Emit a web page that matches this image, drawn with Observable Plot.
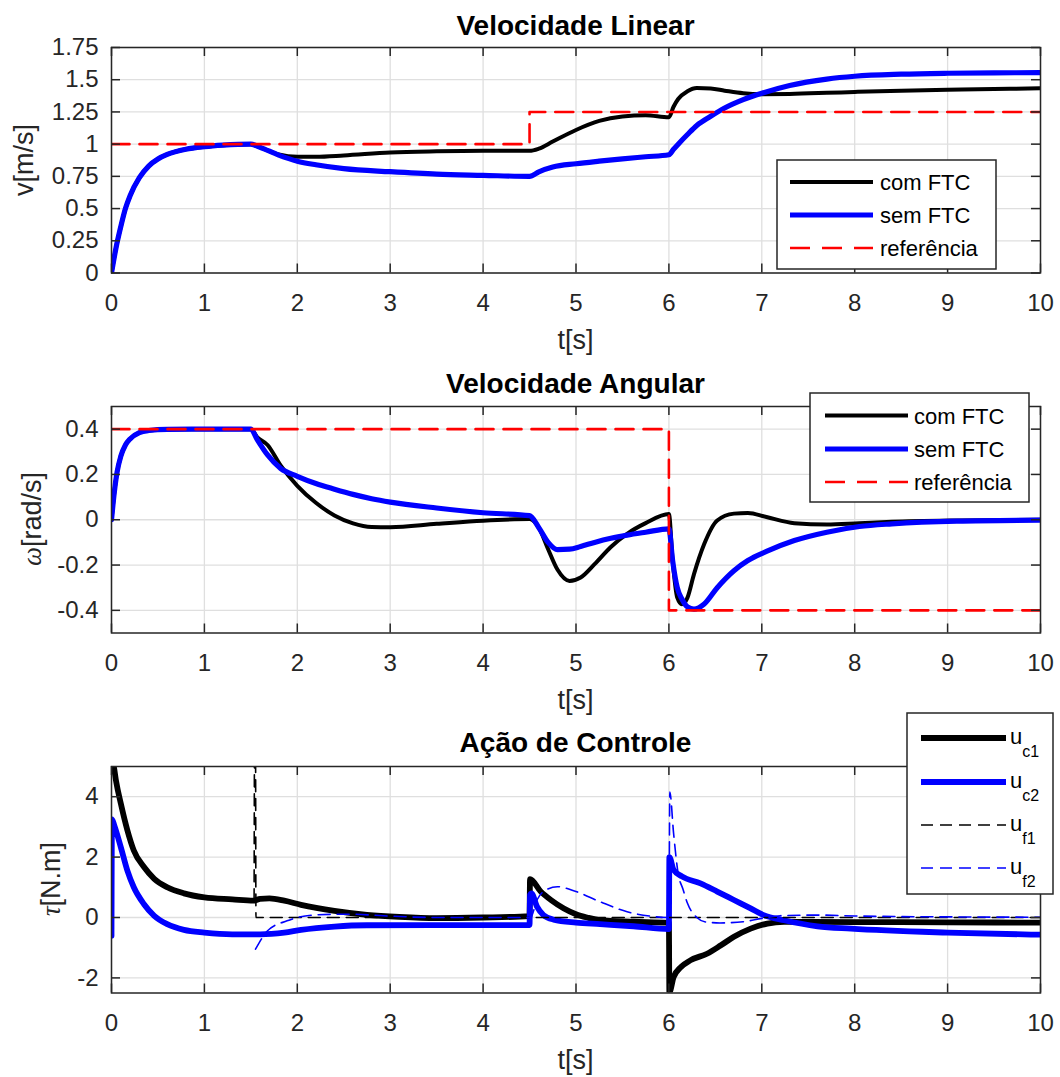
<!DOCTYPE html>
<html>
<head>
<meta charset="utf-8">
<script src="https://cdn.jsdelivr.net/npm/d3@7"></script>
<script src="https://cdn.jsdelivr.net/npm/@observablehq/plot@0.6"></script>
<style>
html,body{margin:0;padding:0;background:#fff;}
#fig{position:relative;width:1060px;height:1077px;overflow:hidden;background:#fff;}
</style>
</head>
<body>
<div id="fig"></div>
<script>
const FONT = '"Liberation Sans", Arial, Helvetica, sans-serif';

// ---------------- data ----------------
const xTicks = [0,1,2,3,4,5,6,7,8,9,10];
const vTicks = [0,0.25,0.5,0.75,1,1.25,1.5,1.75];
const wTicks = [-0.4,-0.2,0,0.2,0.4];
const tauTicks = [-2,0,2,4];

const titles = ["Velocidade Linear", "Velocidade Angular", "Ação de Controle"];
const legendNames = ["com FTC", "sem FTC", "referência"];
const controlNames = [["u","c1"],["u","c2"],["u","f1"],["u","f2"]];

// Linear velocity
const tLin = [0,0.05,0.1,0.15,0.2,0.3,0.4,0.5,0.6,0.8,1.0,1.2,1.5,1.6,1.8,2.0,2.2,2.5,3.0,3.5,4.0,4.5,4.6,4.75,5.0,5.25,5.5,5.75,6.0,6.05,6.1,6.2,6.3,6.45,6.6,6.8,7.0,7.3,7.7,8.0,8.5,9.0,9.5,10];
const vComFTC = [0,0.2,0.36,0.5,0.6,0.74,0.83,0.885,0.92,0.96,0.98,0.992,1.0,0.975,0.92,0.902,0.902,0.912,0.935,0.944,0.948,0.948,0.965,1.02,1.11,1.18,1.215,1.225,1.208,1.29,1.35,1.41,1.435,1.432,1.415,1.395,1.388,1.39,1.398,1.405,1.415,1.422,1.428,1.433];
const vSemFTC = [0,0.2,0.36,0.5,0.6,0.74,0.83,0.885,0.92,0.96,0.98,0.992,1.0,0.975,0.915,0.868,0.84,0.81,0.786,0.767,0.758,0.75,0.785,0.822,0.848,0.868,0.886,0.902,0.918,0.96,1.0,1.075,1.145,1.216,1.28,1.345,1.395,1.455,1.505,1.527,1.543,1.55,1.553,1.555];
const tLinRef = [0,4.5,4.5,10];
const vRef = [1,1,1.25,1.25];

// Angular velocity
const tAng = [0,0.03,0.06,0.1,0.15,0.2,0.3,0.4,0.6,1.0,1.5,1.57,1.68,1.82,2.0,2.2,2.4,2.6,2.8,3.0,3.5,4.0,4.5,4.6,4.7,4.8,4.93,5.05,5.2,5.375,5.55,5.75,6.0,6.04,6.09,6.14,6.2,6.27,6.38,6.52,6.7,6.85,7.05,7.35,7.7,8.05,8.4,9.1,10];
const wComFTC = [0,0.12,0.21,0.28,0.33,0.357,0.385,0.394,0.399,0.4,0.4,0.364,0.33,0.24,0.15,0.075,0.019,-0.016,-0.032,-0.033,-0.018,-0.004,0.003,-0.035,-0.13,-0.22,-0.27,-0.255,-0.196,-0.12,-0.062,-0.015,0.025,-0.18,-0.344,-0.373,-0.344,-0.24,-0.107,-0.003,0.027,0.03,0.012,-0.015,-0.021,-0.015,-0.009,-0.003,0];
const wSemFTC = [0,0.12,0.21,0.28,0.33,0.357,0.385,0.394,0.399,0.4,0.4,0.353,0.286,0.227,0.192,0.16,0.135,0.112,0.093,0.078,0.052,0.031,0.018,-0.035,-0.1,-0.132,-0.13,-0.118,-0.1,-0.082,-0.068,-0.055,-0.04,-0.18,-0.30,-0.35,-0.385,-0.395,-0.372,-0.30,-0.225,-0.18,-0.14,-0.092,-0.055,-0.03,-0.018,-0.006,-0.002];
const tAngRef = [0,6,6,10];
const wRef = [0.4,0.4,-0.4,-0.4];

// Control action
const tUc1 = [0,0.025,0.05,0.1,0.17,0.24,0.35,0.46,0.6,0.78,1.0,1.3,1.53,1.6,1.7,1.86,2.04,2.4,2.75,3.1,3.5,4.0,4.5,4.505,4.62,4.73,4.87,5.0,5.12,5.26,5.62,6.0,6.005,6.05,6.13,6.23,6.41,6.56,6.7,6.88,7.06,7.24,8,9,10];
const uc1 = [5.3,5.0,4.5,3.78,2.9,2.22,1.67,1.28,1.0,0.8,0.667,0.6,0.556,0.62,0.63,0.556,0.42,0.22,0.09,0.02,-0.02,0.0,0.044,1.27,0.86,0.58,0.3,0.11,0.0,-0.09,-0.14,-0.18,-2.48,-1.98,-1.64,-1.42,-1.2,-0.92,-0.64,-0.37,-0.2,-0.144,-0.15,-0.16,-0.17];
const tUc2 = [0,0.005,0.03,0.1,0.17,0.24,0.35,0.46,0.6,0.78,1.0,1.3,1.6,1.86,2.04,2.4,2.75,3.5,4.5,4.505,4.52,4.58,4.65,4.76,5.0,5.26,5.62,6.0,6.005,6.05,6.14,6.34,6.52,6.7,6.88,7.02,7.24,7.6,7.96,9,10];
const uc2 = [-0.6,3.25,3.05,2.33,1.56,1.0,0.44,0.056,-0.22,-0.41,-0.5,-0.556,-0.556,-0.5,-0.41,-0.3,-0.256,-0.25,-0.25,0.74,0.8,0.36,0.08,-0.07,-0.17,-0.22,-0.29,-0.38,2.0,1.58,1.36,1.13,0.86,0.58,0.3,0.08,-0.09,-0.29,-0.37,-0.5,-0.57];
const tUf1 = [1.535,1.54,1.55,1.555,10];
const uf1 = [0.55,6,6,0,0];
const tUf2 = [1.55,1.68,1.89,2.22,2.58,2.93,3.47,4.5,4.51,4.58,4.65,4.8,5.0,5.26,5.55,5.8,5.98,6.0,6.01,6.05,6.1,6.15,6.2,6.3,6.4,6.55,6.8,7.0,7.2,7.6,8.0,9.0,10];
const uf2 = [-1.05,-0.44,-0.11,0.09,0.11,0.056,0.0,0.0,0.0,0.58,0.86,1.02,0.86,0.52,0.19,0.044,0.0,0.0,4.15,2.8,1.45,0.95,0.47,0.0,-0.15,-0.18,-0.14,-0.03,0.06,0.08,0.05,0.02,0.01];

// ---------------- helpers ----------------
const zip = (t, y) => t.map((x, i) => ({t: x, y: y[i]}));
const BLACK = "#000000", BLUE = "#0000ff", RED = "#ff0000", AX = "#262626", GRID = "#dfdfdf";
const FRAME_L = 111, FRAME_R = 1040;
const fig = document.getElementById("fig");

function panel(o) {
  const H = 360;
  const mt = o.frameTop - o.top, mb = o.top + H - o.frameBottom;
  const fw = FRAME_R - FRAME_L, fh = o.frameBottom - o.frameTop;
  const tk = {stroke: AX, strokeWidth: 1.5};
  const svg = Plot.plot({
    width: 1060, height: H,
    marginLeft: FRAME_L, marginRight: 1060 - FRAME_R, marginTop: mt, marginBottom: mb,
    style: {fontFamily: FONT, fontSize: "24px", color: AX, background: "none", overflow: "visible"},
    x: {domain: [0, 10]},
    y: {domain: o.yDomain},
    marks: [
      Plot.gridX(xTicks, {stroke: GRID, strokeOpacity: 1, strokeWidth: 1.3}),
      Plot.gridY(o.yTicks, {stroke: GRID, strokeOpacity: 1, strokeWidth: 1.3}),
      ...o.marks,
      Plot.tickX(xTicks, {x: d => d, insetTop: fh - 9, ...tk}),
      Plot.tickX(xTicks, {x: d => d, insetBottom: fh - 9, ...tk}),
      Plot.tickY(o.yTicks, {y: d => d, insetRight: fw - 9, ...tk}),
      Plot.tickY(o.yTicks, {y: d => d, insetLeft: fw - 9, ...tk}),
      Plot.frame({stroke: AX, strokeWidth: 1.5}),
      Plot.axisX(xTicks, {tickSize: 0, tickPadding: 21, label: null, tickFormat: d => String(d)}),
      Plot.axisY(o.yTicks, {tickSize: 0, tickPadding: 13, label: null, tickFormat: d => String(d)})
    ]
  });
  svg.style.position = "absolute";
  svg.style.top = o.top + "px";
  svg.style.left = "0px";
  fig.appendChild(svg);
}

const L = (data, stroke, strokeWidth, dash, curve = "monotone-x") =>
  Plot.line(data, {x: "t", y: "y", stroke, strokeWidth, strokeDasharray: dash, curve, clip: true, strokeLinejoin: "round"});

const W_COM = 4, W_SEM = 5.2, W_REF = 2.6, W_UC = 5.8, W_UF = 1.6;

// Panel 1
panel({
  top: 0, frameTop: 47, frameBottom: 272.5, yDomain: [0, 1.75], yTicks: vTicks,
  marks: [
    L(zip(tLin, vComFTC), BLACK, W_COM),
    L(zip(tLin, vSemFTC), BLUE, W_SEM),
    L(zip(tLinRef, vRef), RED, W_REF, "18,10", "linear")
  ]
});
// Panel 2
panel({
  top: 360, frameTop: 406, frameBottom: 632.5, yDomain: [-0.5, 0.5], yTicks: wTicks,
  marks: [
    L(zip(tAng, wComFTC), BLACK, W_COM),
    L(zip(tAng, wSemFTC), BLUE, W_SEM),
    L(zip(tAngRef, wRef), RED, W_REF, "18,10", "linear")
  ]
});
// Panel 3
panel({
  top: 717, frameTop: 766, frameBottom: 992.5, yDomain: [-2.5, 5], yTicks: tauTicks,
  marks: [
    L(zip(tUc1, uc1), BLACK, W_UC),
    L(zip(tUc2, uc2), BLUE, W_UC),
    L(zip(tUf1, uf1), BLACK, W_UF, "12,7"),
    L(zip(tUf2, uf2), BLUE, W_UF, "12,7")
  ]
});

// ---------------- overlay: titles, labels, legends ----------------
const ov = d3.select(fig).append("svg")
  .attr("width", 1060).attr("height", 1077)
  .style("position", "absolute").style("top", "0").style("left", "0")
  .style("font-family", FONT);

const cx = (FRAME_L + FRAME_R) / 2;
[[34.5, 0], [392.5, 1], [751.5, 2]].forEach(([y, i]) => {
  ov.append("text").attr("x", cx).attr("y", y).attr("text-anchor", "middle")
    .attr("font-weight", "bold").attr("font-size", 28).attr("fill", "#000").text(titles[i]);
});
[349, 709, 1069].forEach(y => {
  ov.append("text").attr("x", cx).attr("y", y).attr("text-anchor", "middle")
    .attr("font-size", 27).attr("fill", AX).text("t[s]");
});
function ylabel(x, y, sym, rest, italic) {
  const t = ov.append("text").attr("transform", `translate(${x},${y}) rotate(-90)`)
    .attr("text-anchor", "middle").attr("font-size", 27).attr("fill", AX);
  if (italic) {
    t.append("tspan").attr("font-family", '"Liberation Serif", "DejaVu Serif", serif')
      .attr("font-style", "italic").text(sym);
    t.append("tspan").text(rest);
  } else {
    t.text(sym + rest);
  }
}
ylabel(33, 160, "v", "[m/s]", false);
ylabel(41, 519, "ω", "[rad/s]", true);
ylabel(60, 879, "τ", "[N.m]", true);

function legend(box, rows) {
  const g = ov.append("g");
  g.append("rect").attr("x", box.x).attr("y", box.y).attr("width", box.w).attr("height", box.h)
    .attr("fill", "#fff").attr("stroke", AX).attr("stroke-width", 1.5);
  rows.forEach(r => {
    g.append("line").attr("x1", box.lx1).attr("x2", box.lx2).attr("y1", r.y).attr("y2", r.y)
      .attr("stroke", r.color).attr("stroke-width", r.w).attr("stroke-dasharray", r.dash || null);
    const t = g.append("text").attr("x", box.tx).attr("y", r.y + (r.sub ? 6 : 8))
      .attr("font-size", box.fs).attr("fill", "#000");
    if (r.sub) {
      t.append("tspan").text(r.label);
      t.append("tspan").attr("dy", 13).attr("font-size", 16).text(r.sub);
    } else {
      t.text(r.label);
    }
  });
}
legend({x: 777, y: 160, w: 219, h: 109, lx1: 790, lx2: 873, tx: 880, fs: 22}, [
  {y: 182, color: BLACK, w: W_COM, label: legendNames[0]},
  {y: 215, color: BLUE, w: W_SEM, label: legendNames[1]},
  {y: 248, color: RED, w: W_REF, dash: "20,12", label: legendNames[2]}
]);
legend({x: 810, y: 393, w: 219, h: 109, lx1: 825, lx2: 908, tx: 914, fs: 22}, [
  {y: 415.5, color: BLACK, w: W_COM, label: legendNames[0]},
  {y: 449, color: BLUE, w: W_SEM, label: legendNames[1]},
  {y: 482, color: RED, w: W_REF, dash: "20,12", label: legendNames[2]}
]);
legend({x: 907, y: 713, w: 146, h: 181, lx1: 921, lx2: 1006, tx: 1010, fs: 22}, [
  {y: 738, color: BLACK, w: W_UC, label: controlNames[0][0], sub: controlNames[0][1]},
  {y: 782, color: BLUE, w: W_UC, label: controlNames[1][0], sub: controlNames[1][1]},
  {y: 825, color: BLACK, w: W_UF, dash: "12,7", label: controlNames[2][0], sub: controlNames[2][1]},
  {y: 868, color: BLUE, w: W_UF, dash: "12,7", label: controlNames[3][0], sub: controlNames[3][1]}
]);
</script>
</body>
</html>
